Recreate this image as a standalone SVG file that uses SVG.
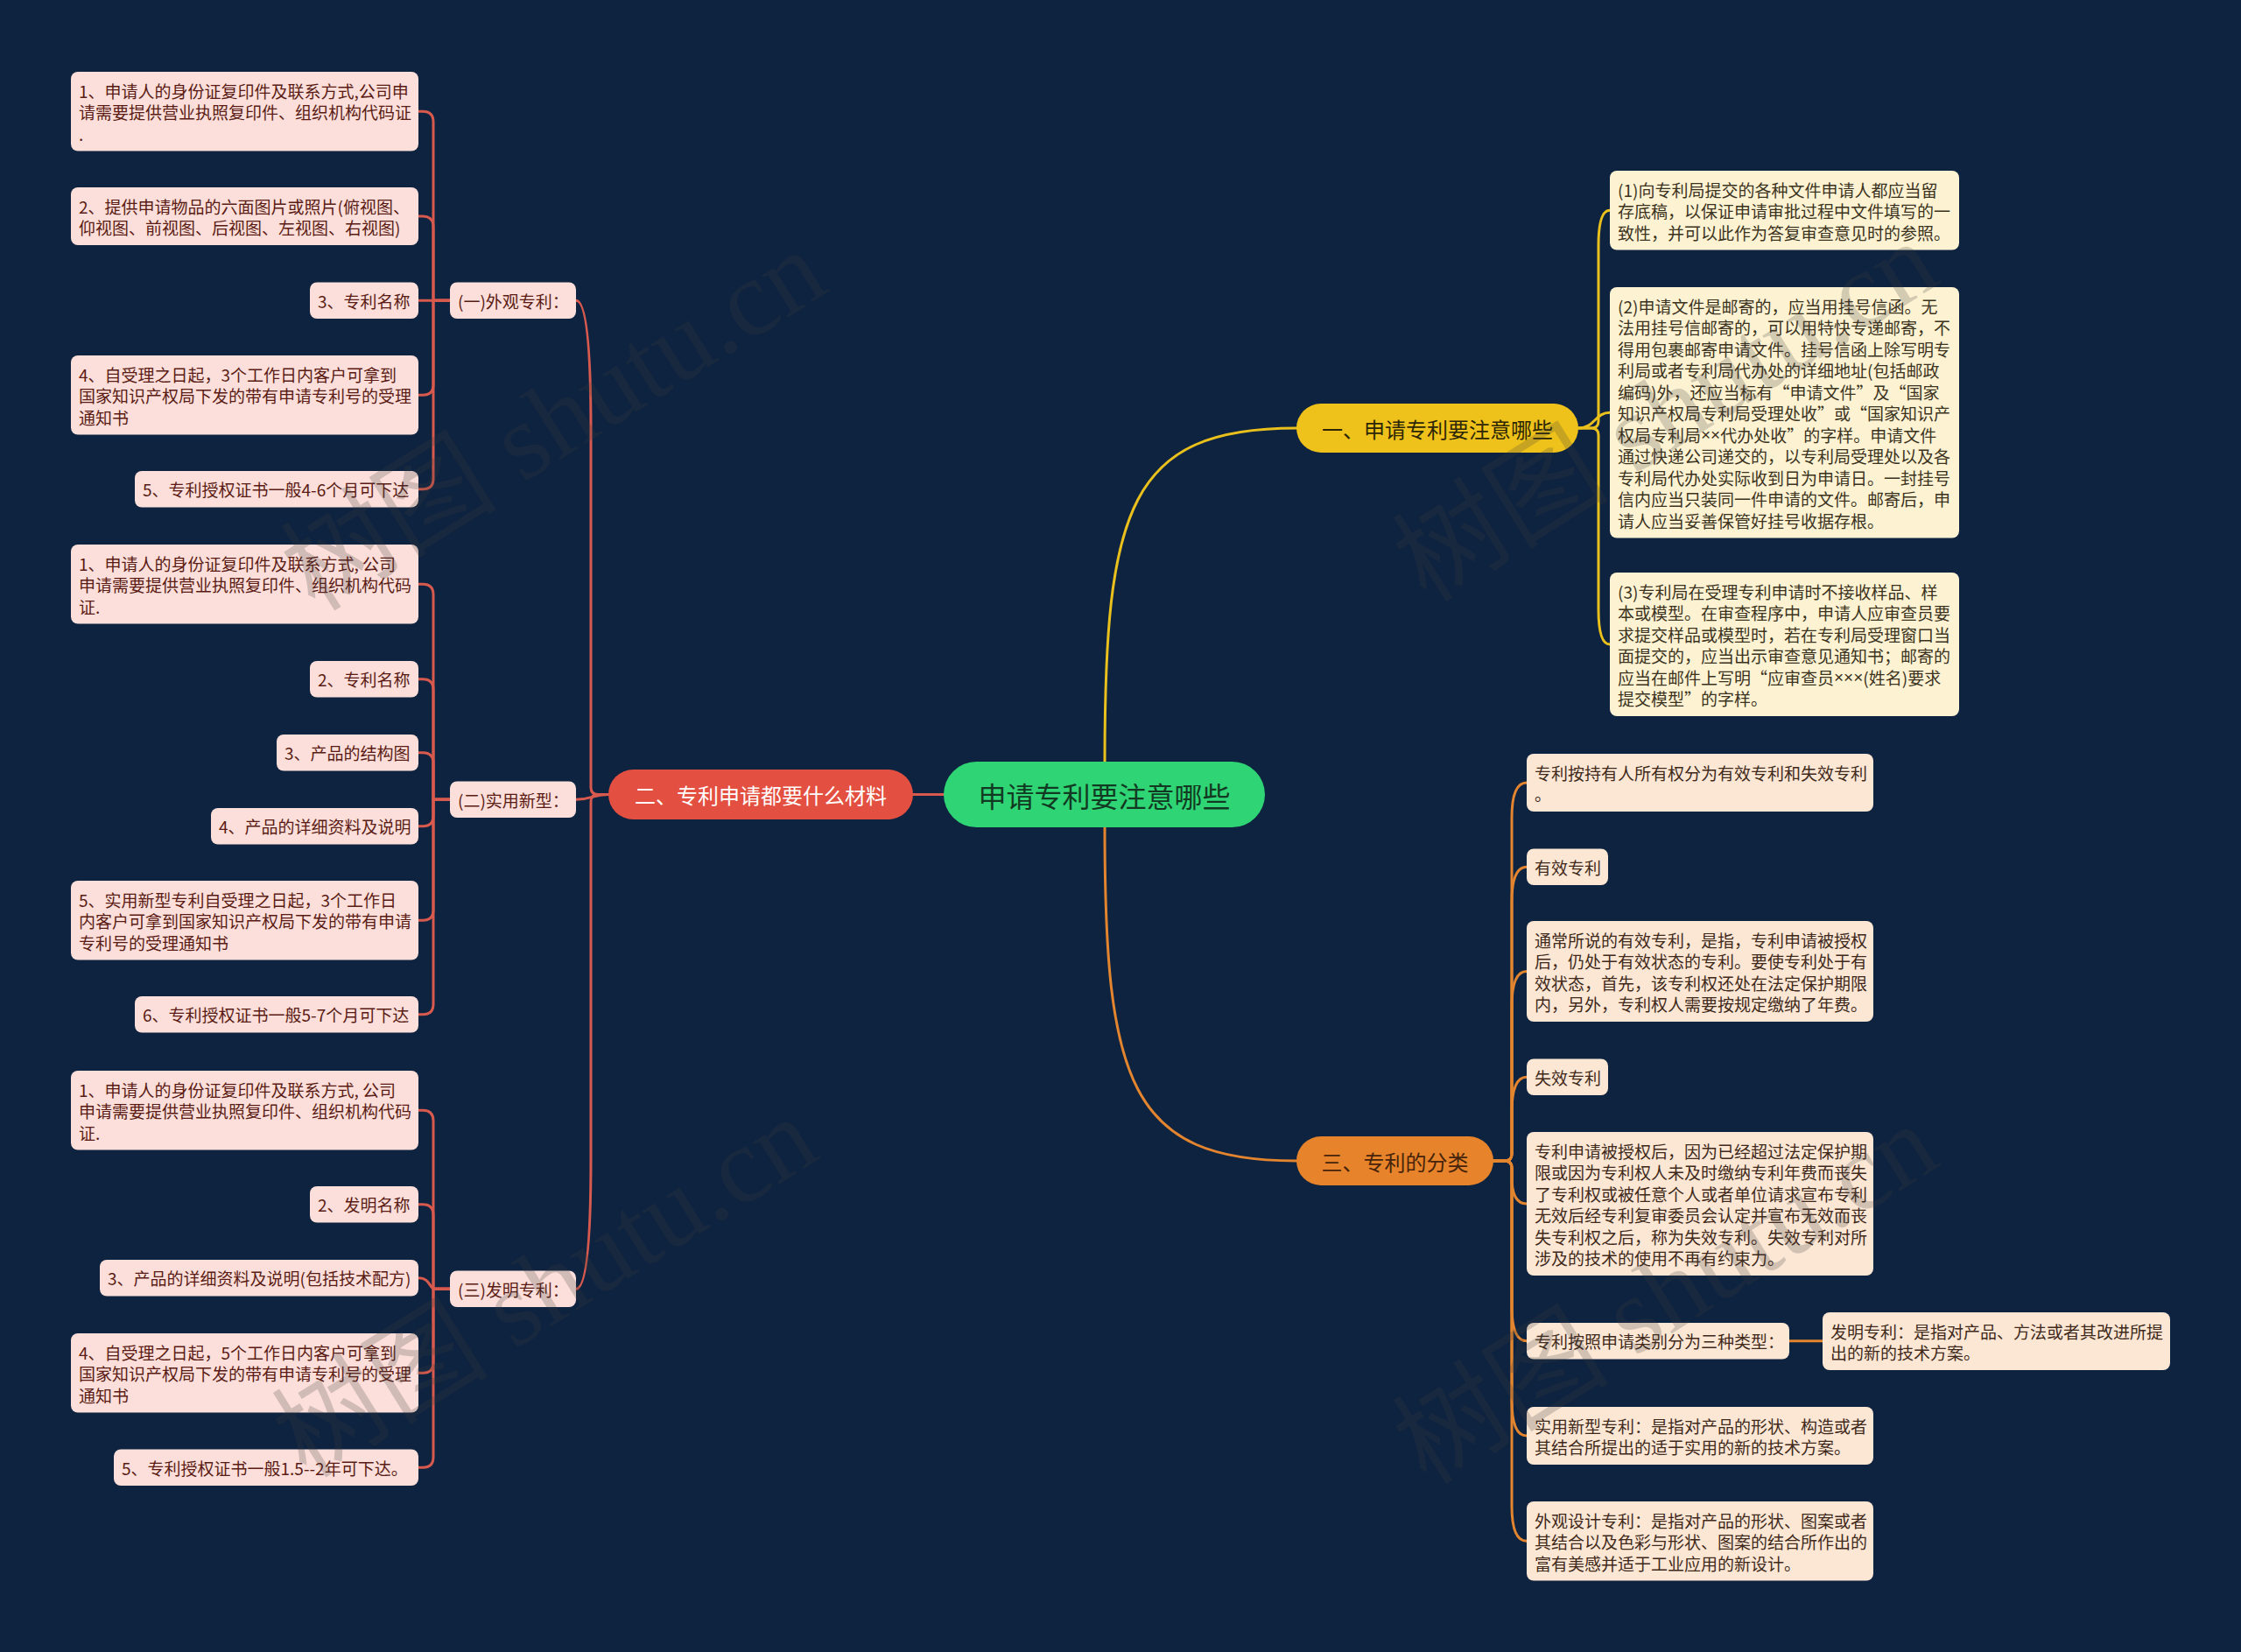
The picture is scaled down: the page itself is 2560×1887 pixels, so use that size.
<svg xmlns="http://www.w3.org/2000/svg" width="2560" height="1887" viewBox="0 0 2560 1887">
<style>
text, tspan { font-family: "Noto Sans CJK SC", "Noto Sans", sans-serif; dominant-baseline: central; }
.t19 { font-size: 19px; }
.lb { fill: #FCDFDA; }
.lt { fill: #5A1B14; }
.eb { fill: #FDF3D3; }
.et { fill: #3B3220; }
.fb { fill: #FCE7D5; }
.ft { fill: #40291A; }
.x { font-family: "Liberation Sans", sans-serif; }
.c { fill: none; stroke-width: 3; stroke-linecap: round; stroke-linejoin: round; }
.cr { stroke: #D85A4E; }
.cy { stroke: #EAC01C; }
.co { stroke: #E3852F; }
.wm { font-family: "Liberation Serif", "Noto Sans CJK SC", serif; font-size: 124px; fill: #3a3a3a; fill-opacity: 0.22; dominant-baseline: auto; }
</style>
<rect width="2560" height="1887" fill="#0E2340"/>

<g id="connectors">
  <path class="c cr" stroke-width="4" d="M 1078 907.5 H 1043"/>
  <path class="c cy" stroke-width="4" d="M 1262 870 C 1262 580, 1290 489, 1481 489"/>
  <path class="c co" stroke-width="4" d="M 1262 945 C 1262 1235, 1290 1326, 1481 1326"/>

  <path class="c cr" stroke-width="3.5" d="M 695 907.5 H 683 Q 675 907.5 675 899.5 V 493 C 675 420, 672 343.25, 658 343.25"/>
  <path class="c cr" stroke-width="3.5" d="M 695 907.5 C 677 907.5, 676 913.25, 658 913.25"/>
  <path class="c cr" stroke-width="3.5" d="M 695 907.5 H 683 Q 675 907.5 675 915.5 V 1322 C 675 1395, 672 1472.25, 658 1472.25"/>

  <path class="c cr" d="M 514 343.25 H 495 V 139.25 Q 495 127.25 483 127.25 H 478"/>
  <path class="c cr" d="M 514 343.25 H 495 V 259 Q 495 247 483 247 H 478"/>
  <path class="c cr" d="M 514 343.25 H 478"/>
  <path class="c cr" d="M 514 343.25 H 495 V 439.25 Q 495 451.25 483 451.25 H 478"/>
  <path class="c cr" d="M 514 343.25 H 495 V 546.75 Q 495 558.75 483 558.75 H 478"/>

  <path class="c cr" d="M 514 913.25 H 495 V 679.25 Q 495 667.25 483 667.25 H 478"/>
  <path class="c cr" d="M 514 913.25 H 495 V 787.75 Q 495 775.75 483 775.75 H 478"/>
  <path class="c cr" d="M 514 913.25 H 495 V 871.75 Q 495 859.75 483 859.75 H 478"/>
  <path class="c cr" d="M 514 913.25 H 495 V 931.75 Q 495 943.75 483 943.75 H 478"/>
  <path class="c cr" d="M 514 913.25 H 495 V 1039.25 Q 495 1051.25 483 1051.25 H 478"/>
  <path class="c cr" d="M 514 913.25 H 495 V 1146.75 Q 495 1158.75 483 1158.75 H 478"/>

  <path class="c cr" d="M 514 1472.25 H 495 V 1280.25 Q 495 1268.25 483 1268.25 H 478"/>
  <path class="c cr" d="M 514 1472.25 H 495 V 1387.75 Q 495 1375.75 483 1375.75 H 478"/>
  <path class="c cr" d="M 514 1472.25 H 497 C 490 1472.25, 492 1459.75, 478 1459.75"/>
  <path class="c cr" d="M 514 1472.25 H 495 V 1556.25 Q 495 1568.25 483 1568.25 H 478"/>
  <path class="c cr" d="M 514 1472.25 H 495 V 1664.25 Q 495 1676.25 483 1676.25 H 478"/>

  <path class="c cy" d="M 1803 489 H 1818 Q 1826 489 1826 481 V 280.25 Q 1826 240.25 1839 240.25"/>
  <path class="c cy" d="M 1803 489 C 1822 489, 1822 471.25, 1839 471.25"/>
  <path class="c cy" d="M 1803 489 H 1818 Q 1826 489 1826 497 V 696 Q 1826 736 1839 736"/>

  <path class="c co" d="M 1706 1326 H 1719 Q 1727 1326 1727 1318 V 934 Q 1727 894 1744 894"/>
  <path class="c co" d="M 1706 1326 H 1719 Q 1727 1326 1727 1318 V 1030.25 Q 1727 990.25 1744 990.25"/>
  <path class="c co" d="M 1706 1326 H 1719 Q 1727 1326 1727 1318 V 1149.5 Q 1727 1109.5 1744 1109.5"/>
  <path class="c co" d="M 1706 1326 H 1719 Q 1727 1326 1727 1318 V 1270.25 Q 1727 1230.25 1744 1230.25"/>
  <path class="c co" d="M 1706 1326 H 1719 Q 1727 1326 1727 1334 V 1345 Q 1727 1375 1744 1375"/>
  <path class="c co" d="M 1706 1326 H 1719 Q 1727 1326 1727 1334 V 1491.75 Q 1727 1531.75 1744 1531.75"/>
  <path class="c co" d="M 1706 1326 H 1719 Q 1727 1326 1727 1334 V 1600 Q 1727 1640 1744 1640"/>
  <path class="c co" d="M 1706 1326 H 1719 Q 1727 1326 1727 1334 V 1720.25 Q 1727 1760.25 1744 1760.25"/>
  <path class="c co" stroke-width="4" d="M 2044 1531.75 H 2082"/>
</g>

<g id="root">
  <rect x="1078" y="870" width="367" height="75" rx="37.5" fill="#2FD474"/>
  <text x="1261.5" y="907.5" text-anchor="middle" font-size="32" fill="#123A22">申请专利要注意哪些</text>
</g>
<g id="branch-2">
  <rect x="695" y="879" width="348" height="57" rx="28.5" fill="#E34F40"/>
  <text x="869" y="907.5" text-anchor="middle" font-size="24" fill="#FFFFFF">二、专利申请都要什么材料</text>
</g>
<g id="branch-1">
  <rect x="1481" y="461" width="322" height="56" rx="28" fill="#EEC21A"/>
  <text x="1642" y="489" text-anchor="middle" font-size="24" fill="#2D2606">一、申请专利要注意哪些</text>
</g>
<g id="branch-3">
  <rect x="1481" y="1298" width="225" height="56" rx="28" fill="#E6832B"/>
  <text x="1593.5" y="1326" text-anchor="middle" font-size="24" fill="#46230A">三、专利的分类</text>
</g>

<g id="b1"><rect class="lb" x="514" y="322.5" width="144" height="41.5" rx="8"/><text class="t19 lt" x="523" y="343.25">(一)外观专利：</text></g>
<g id="a1"><rect class="lb" x="81" y="82" width="397" height="90.5" rx="8"/><text class="t19 lt"><tspan x="90" y="102.75">1、申请人的身份证复印件及联系方式,公司申</tspan><tspan x="90" y="127.25">请需要提供营业执照复印件、组织机构代码证</tspan><tspan x="90" y="151.75">.</tspan></text></g>
<g id="a2"><rect class="lb" x="81" y="214" width="397" height="66" rx="8"/><text class="t19 lt"><tspan x="90" y="234.75">2、提供申请物品的六面图片或照片(俯视图、</tspan><tspan x="90" y="259.25">仰视图、前视图、后视图、左视图、右视图)</tspan></text></g>
<g id="a3"><rect class="lb" x="354" y="322.5" width="124" height="41.5" rx="8"/><text class="t19 lt" x="363" y="343.25">3、专利名称</text></g>
<g id="a4"><rect class="lb" x="81" y="406" width="397" height="90.5" rx="8"/><text class="t19 lt"><tspan x="90" y="426.75">4、自受理之日起，3个工作日内客户可拿到</tspan><tspan x="90" y="451.25">国家知识产权局下发的带有申请专利号的受理</tspan><tspan x="90" y="475.75">通知书</tspan></text></g>
<g id="a5"><rect class="lb" x="154" y="538" width="324" height="41.5" rx="8"/><text class="t19 lt" x="163" y="558.75">5、专利授权证书一般4-6个月可下达</text></g>

<g id="b2"><rect class="lb" x="514" y="892.5" width="144" height="41.5" rx="8"/><text class="t19 lt" x="523" y="913.25">(二)实用新型：</text></g>
<g id="c1"><rect class="lb" x="81" y="622" width="397" height="90.5" rx="8"/><text class="t19 lt"><tspan x="90" y="642.75">1、申请人的身份证复印件及联系方式, 公司</tspan><tspan x="90" y="667.25">申请需要提供营业执照复印件、组织机构代码</tspan><tspan x="90" y="691.75">证.</tspan></text></g>
<g id="c2"><rect class="lb" x="354" y="755" width="124" height="41.5" rx="8"/><text class="t19 lt" x="363" y="775.75">2、专利名称</text></g>
<g id="c3"><rect class="lb" x="316" y="839" width="162" height="41.5" rx="8"/><text class="t19 lt" x="325" y="859.75">3、产品的结构图</text></g>
<g id="c4"><rect class="lb" x="241" y="923" width="237" height="41.5" rx="8"/><text class="t19 lt" x="250" y="943.75">4、产品的详细资料及说明</text></g>
<g id="c5"><rect class="lb" x="81" y="1006" width="397" height="90.5" rx="8"/><text class="t19 lt"><tspan x="90" y="1026.75">5、实用新型专利自受理之日起，3个工作日</tspan><tspan x="90" y="1051.25">内客户可拿到国家知识产权局下发的带有申请</tspan><tspan x="90" y="1075.75">专利号的受理通知书</tspan></text></g>
<g id="c6"><rect class="lb" x="154" y="1138" width="324" height="41.5" rx="8"/><text class="t19 lt" x="163" y="1158.75">6、专利授权证书一般5-7个月可下达</text></g>

<g id="b3"><rect class="lb" x="514" y="1451.5" width="144" height="41.5" rx="8"/><text class="t19 lt" x="523" y="1472.25">(三)发明专利：</text></g>
<g id="d1"><rect class="lb" x="81" y="1223" width="397" height="90.5" rx="8"/><text class="t19 lt"><tspan x="90" y="1243.75">1、申请人的身份证复印件及联系方式, 公司</tspan><tspan x="90" y="1268.25">申请需要提供营业执照复印件、组织机构代码</tspan><tspan x="90" y="1292.75">证.</tspan></text></g>
<g id="d2"><rect class="lb" x="354" y="1355" width="124" height="41.5" rx="8"/><text class="t19 lt" x="363" y="1375.75">2、发明名称</text></g>
<g id="d3"><rect class="lb" x="114" y="1439" width="364" height="41.5" rx="8"/><text class="t19 lt" x="123" y="1459.75">3、产品的详细资料及说明(包括技术配方)</text></g>
<g id="d4"><rect class="lb" x="81" y="1523" width="397" height="90.5" rx="8"/><text class="t19 lt"><tspan x="90" y="1543.75">4、自受理之日起，5个工作日内客户可拿到</tspan><tspan x="90" y="1568.25">国家知识产权局下发的带有申请专利号的受理</tspan><tspan x="90" y="1592.75">通知书</tspan></text></g>
<g id="d5"><rect class="lb" x="130" y="1655.5" width="348" height="41.5" rx="8"/><text class="t19 lt" x="139" y="1676.25">5、专利授权证书一般1.5--2年可下达。</text></g>

<g id="e1"><rect class="eb" x="1839" y="195" width="399" height="90.5" rx="8"/><text class="t19 et"><tspan x="1848" y="215.75">(1)向专利局提交的各种文件申请人都应当留</tspan><tspan x="1848" y="240.25">存底稿，以保证申请审批过程中文件填写的一</tspan><tspan x="1848" y="264.75">致性，并可以此作为答复审查意见时的参照。</tspan></text></g>
<g id="e2"><rect class="eb" x="1839" y="328" width="399" height="286.5" rx="8"/><text class="t19 et"><tspan x="1848" y="348.75">(2)申请文件是邮寄的，应当用挂号信函。无</tspan><tspan x="1848" y="373.25">法用挂号信邮寄的，可以用特快专递邮寄，不</tspan><tspan x="1848" y="397.75">得用包裹邮寄申请文件。挂号信函上除写明专</tspan><tspan x="1848" y="422.25">利局或者专利局代办处的详细地址(包括邮政</tspan><tspan x="1848" y="446.75">编码)外，还应当标有“申请文件”及“国家</tspan><tspan x="1848" y="471.25">知识产权局专利局受理处收”或“国家知识产</tspan><tspan x="1848" y="495.75">权局专利局<tspan class="x">××</tspan>代办处收”的字样。申请文件</tspan><tspan x="1848" y="520.25">通过快递公司递交的，以专利局受理处以及各</tspan><tspan x="1848" y="544.75">专利局代办处实际收到日为申请日。一封挂号</tspan><tspan x="1848" y="569.25">信内应当只装同一件申请的文件。邮寄后，申</tspan><tspan x="1848" y="593.75">请人应当妥善保管好挂号收据存根。</tspan></text></g>
<g id="e3"><rect class="eb" x="1839" y="654" width="399" height="164" rx="8"/><text class="t19 et"><tspan x="1848" y="674.75">(3)专利局在受理专利申请时不接收样品、样</tspan><tspan x="1848" y="699.25">本或模型。在审查程序中，申请人应审查员要</tspan><tspan x="1848" y="723.75">求提交样品或模型时，若在专利局受理窗口当</tspan><tspan x="1848" y="748.25">面提交的，应当出示审查意见通知书；邮寄的</tspan><tspan x="1848" y="772.75">应当在邮件上写明“应审查员<tspan class="x">×××</tspan>(姓名)要求</tspan><tspan x="1848" y="797.25">提交模型”的字样。</tspan></text></g>

<g id="f1"><rect class="fb" x="1744" y="861" width="396" height="66" rx="8"/><text class="t19 ft"><tspan x="1753" y="881.75">专利按持有人所有权分为有效专利和失效专利</tspan><tspan x="1753" y="906.25">。</tspan></text></g>
<g id="f2"><rect class="fb" x="1744" y="969.5" width="93" height="41.5" rx="8"/><text class="t19 ft" x="1753" y="990.25">有效专利</text></g>
<g id="f3"><rect class="fb" x="1744" y="1052" width="396" height="115" rx="8"/><text class="t19 ft"><tspan x="1753" y="1072.75">通常所说的有效专利，是指，专利申请被授权</tspan><tspan x="1753" y="1097.25">后，仍处于有效状态的专利。要使专利处于有</tspan><tspan x="1753" y="1121.75">效状态，首先，该专利权还处在法定保护期限</tspan><tspan x="1753" y="1146.25">内，另外，专利权人需要按规定缴纳了年费。</tspan></text></g>
<g id="f4"><rect class="fb" x="1744" y="1209.5" width="93" height="41.5" rx="8"/><text class="t19 ft" x="1753" y="1230.25">失效专利</text></g>
<g id="f5"><rect class="fb" x="1744" y="1293" width="396" height="164" rx="8"/><text class="t19 ft"><tspan x="1753" y="1313.75">专利申请被授权后，因为已经超过法定保护期</tspan><tspan x="1753" y="1338.25">限或因为专利权人未及时缴纳专利年费而丧失</tspan><tspan x="1753" y="1362.75">了专利权或被任意个人或者单位请求宣布专利</tspan><tspan x="1753" y="1387.25">无效后经专利复审委员会认定并宣布无效而丧</tspan><tspan x="1753" y="1411.75">失专利权之后，称为失效专利。失效专利对所</tspan><tspan x="1753" y="1436.25">涉及的技术的使用不再有约束力。</tspan></text></g>
<g id="f6"><rect class="fb" x="1744" y="1511" width="300" height="41.5" rx="8"/><text class="t19 ft" x="1753" y="1531.75">专利按照申请类别分为三种类型：</text></g>
<g id="f6a"><rect class="fb" x="2082" y="1499" width="397" height="66" rx="8"/><text class="t19 ft"><tspan x="2091" y="1519.75">发明专利：是指对产品、方法或者其改进所提</tspan><tspan x="2091" y="1544.25">出的新的技术方案。</tspan></text></g>
<g id="f7"><rect class="fb" x="1744" y="1607" width="396" height="66" rx="8"/><text class="t19 ft"><tspan x="1753" y="1627.75">实用新型专利：是指对产品的形状、构造或者</tspan><tspan x="1753" y="1652.25">其结合所提出的适于实用的新的技术方案。</tspan></text></g>
<g id="f8"><rect class="fb" x="1744" y="1715" width="396" height="90.5" rx="8"/><text class="t19 ft"><tspan x="1753" y="1735.75">外观设计专利：是指对产品的形状、图案或者</tspan><tspan x="1753" y="1760.25">其结合以及色彩与形状、图案的结合所作出的</tspan><tspan x="1753" y="1784.75">富有美感并适于工业应用的新设计。</tspan></text></g>

<g id="watermark">
  <text class="wm" x="360" y="700" transform="rotate(-32 360 700)">树图 shutu.cn</text>
  <text class="wm" x="1630" y="690" transform="rotate(-32 1630 690)">树图 shutu.cn</text>
  <text class="wm" x="350" y="1690" transform="rotate(-32 350 1690)">树图 shutu.cn</text>
  <text class="wm" x="1630" y="1698" transform="rotate(-32 1630 1698)">树图 shutu.cn</text>
</g>
</svg>
